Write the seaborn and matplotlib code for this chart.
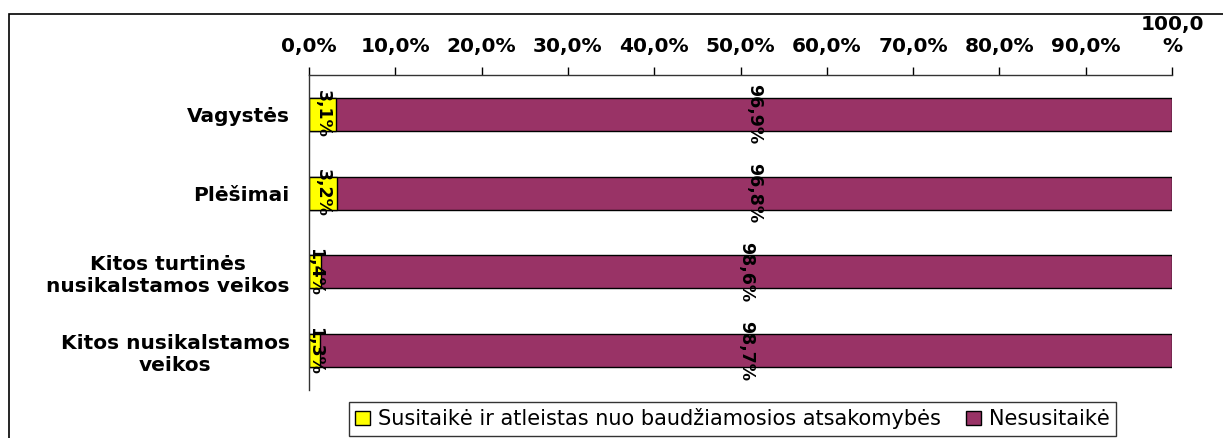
import seaborn as sns
import pandas as pd
import matplotlib.pyplot as plt
from matplotlib.patches import Rectangle

# categories and shares (%)
categories = ["Vagystės", "Plėšimai", "Kitos turtinės\nnusikalstamos veikos", "Kitos nusikalstamos\nveikos"]
susitaike = [3.1, 3.2, 1.4, 1.3]
nesusitaike = [96.9, 96.8, 98.6, 98.7]
tick_vals = [0, 10, 20, 30, 40, 50, 60, 70, 80, 90, 100]
tick_labels = ["0,0%", "10,0%", "20,0%", "30,0%", "40,0%", "50,0%", "60,0%", "70,0%", "80,0%", "90,0%", "100,0\n%"]
series_names = ["Susitaikė ir atleistas nuo baudžiamosios atsakomybės", "Nesusitaikė"]

df = pd.DataFrame({"cat": categories, "yellow": susitaike, "maroon": nesusitaike})
df["total"] = df["yellow"] + df["maroon"]

sns.set_style("white")
plt.rcParams["font.family"] = ["DejaVu Sans"]
plt.rcParams["text.color"] = "black"
plt.rcParams["xtick.color"] = "black"
plt.rcParams["ytick.color"] = "black"

fig = plt.figure(figsize=(12.23, 4.38), dpi=100)
ax = fig.add_axes([309 / 1223, 1 - 390 / 438, 863 / 1223, 315 / 438])

# stacked: full bar in maroon, yellow part drawn over its start
sns.barplot(data=df, y="cat", x="total", color="#993366", width=0.42,
            edgecolor="black", linewidth=1, ax=ax, saturation=1)
sns.barplot(data=df, y="cat", x="yellow", color="#FFFF00", width=0.42,
            edgecolor="black", linewidth=1, ax=ax, saturation=1)

# segment labels, rotated
for i in range(len(categories)):
    ax.text(df["yellow"][i] / 2, i, f"{df['yellow'][i]:.1f}%".replace(".", ","),
            rotation=-90, ha="center", va="center", fontsize=12.5, fontweight="bold", color="black")
    ax.text(df["yellow"][i] + df["maroon"][i] / 2, i, f"{df['maroon'][i]:.1f}%".replace(".", ","),
            rotation=-90, ha="center", va="center", fontsize=12.5, fontweight="bold", color="black")

ax.set_xlim(0, 100)
ax.set_ylim(3.5, -0.5)
ax.xaxis.tick_top()
ax.set_xticks(tick_vals)
ax.set_xticklabels(tick_labels, fontsize=14.5, fontweight="bold")
ax.tick_params(axis="x", direction="out", length=6, width=1, color="black", pad=8, top=True, bottom=False)
ax.tick_params(axis="y", length=0, pad=14)
for lab in ax.get_yticklabels():
    lab.set_fontsize(14.5)
    lab.set_fontweight("bold")
    lab.set_multialignment("center")
ax.set_xlabel("")
ax.set_ylabel("")
for s in ["right", "bottom"]:
    ax.spines[s].set_visible(False)
for s in ["top", "left"]:
    ax.spines[s].set_color("#333333")
    ax.spines[s].set_linewidth(1)

# legend
handles = [Rectangle((0, 0), 1, 1, facecolor="#FFFF00", edgecolor="black"),
           Rectangle((0, 0), 1, 1, facecolor="#993366", edgecolor="black")]
leg = fig.legend(handles, series_names, loc="upper center", bbox_to_anchor=(0.599, 1 - 402 / 438),
                 ncol=2, fontsize=15, frameon=True, fancybox=False, handlelength=0.7,
                 handleheight=0.7, handletextpad=0.4, columnspacing=1.2, borderpad=0.3,
                 borderaxespad=0)
leg.get_frame().set_edgecolor("black")
leg.get_frame().set_linewidth(1)

# outer chart frame
fig.patches.append(Rectangle((9 / 1223, -0.1), 1.1, 1.1 - 14 / 438, transform=fig.transFigure,
                             fill=False, edgecolor="black", linewidth=1.2))

fig.savefig("out.png", dpi=100)
